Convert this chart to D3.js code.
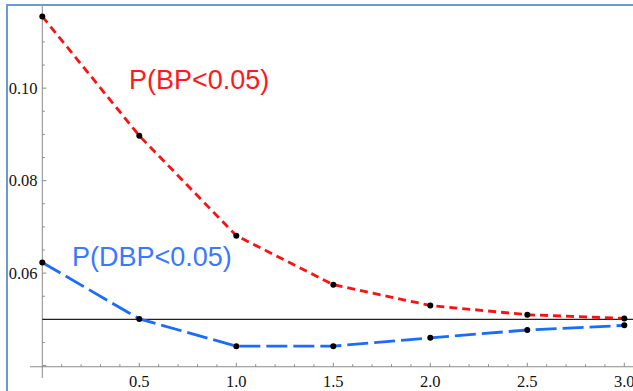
<!DOCTYPE html>
<html>
<head>
<meta charset="utf-8">
<script src="https://cdn.jsdelivr.net/npm/d3@7.9.0/dist/d3.min.js"></script>
<style>
  html, body { margin: 0; padding: 0; background: #fff; }
  svg { display: block; }
</style>
</head>
<body>
<svg id="chart" width="633" height="391"></svg>
<script>
// data
const xs = [0, 0.5, 1.0, 1.5, 2.0, 2.5, 3.0];
const bpValues = [0.1155, 0.0897, 0.0681, 0.0575, 0.0530, 0.0510, 0.0502];
const dbpValues = [0.0623, 0.0501, 0.0442, 0.0442, 0.0460, 0.0477, 0.0487];
const refLevel = 0.05;
const xTickLabels = ['0.5', '1.0', '1.5', '2.0', '2.5', '3.0'];
const yTickLabels = ['0.06', '0.08', '0.10'];

const svg = d3.select('#chart');

const x = d3.scaleLinear().domain([0, 3]).range([42.3, 624.3]);
const y = d3.scaleLinear().domain([0.04, 0.11]).range([365.6, 41.9]);
const axisY = y(0.03975);

const axisColor = '#8a8a8a';
const tickFont = '"Liberation Serif", "DejaVu Serif", serif';

// x axis
svg.append('line')
  .attr('x1', 30).attr('x2', 633)
  .attr('y1', axisY).attr('y2', axisY)
  .attr('stroke', axisColor).attr('stroke-width', 1);

// y axis
svg.append('line')
  .attr('x1', x(0)).attr('x2', x(0))
  .attr('y1', 6).attr('y2', 378)
  .attr('stroke', axisColor).attr('stroke-width', 1);

// x ticks, minor every 0.1, major every 0.5
const xMinor = d3.range(1, 31).map((i) => i / 10);
svg.append('g').selectAll('line')
  .data(xMinor)
  .join('line')
  .attr('x1', (d) => x(d)).attr('x2', (d) => x(d))
  .attr('y1', axisY)
  .attr('y2', (d) => Math.abs(d * 2 - Math.round(d * 2)) < 1e-6 ? axisY - 4 : axisY - 2.5)
  .attr('stroke', axisColor).attr('stroke-width', 1);

svg.append('g').selectAll('text')
  .data(xTickLabels)
  .join('text')
  .attr('x', (d) => x(+d))
  .attr('y', 387)
  .attr('text-anchor', 'middle')
  .attr('font-family', tickFont)
  .attr('font-size', 16.5)
  .attr('fill', '#111')
  .text((d) => d);

// y ticks, minor every 0.005, major every 0.02
const yMinor = d3.range(8, 23).map((i) => i * 0.005);
svg.append('g').selectAll('line')
  .data(yMinor)
  .join('line')
  .attr('x1', x(0))
  .attr('x2', (d) => Math.abs(d / 0.02 - Math.round(d / 0.02)) < 1e-6 ? x(0) + 4 : x(0) + 2.5)
  .attr('y1', (d) => y(d)).attr('y2', (d) => y(d))
  .attr('stroke', axisColor).attr('stroke-width', 1);

svg.append('g').selectAll('text')
  .data(yTickLabels)
  .join('text')
  .attr('x', 37.5)
  .attr('y', (d) => y(+d) + 5.5)
  .attr('text-anchor', 'end')
  .attr('font-family', tickFont)
  .attr('font-size', 16.5)
  .attr('fill', '#111')
  .text((d) => d);

// reference line at 0.05
svg.append('line')
  .attr('x1', x(0)).attr('x2', 633)
  .attr('y1', y(refLevel)).attr('y2', y(refLevel))
  .attr('stroke', '#222').attr('stroke-width', 1.3);

const line = d3.line().x((d) => x(d[0])).y((d) => y(d[1]));

const series = [
  { values: bpValues, color: '#ff1010', dash: '8,5' },
  { values: dbpValues, color: '#1a6bff', dash: '21,6' },
];

series.forEach((s) => {
  const pts = xs.map((v, i) => [v, s.values[i]]);
  svg.append('path')
    .datum(pts)
    .attr('d', line)
    .attr('fill', 'none')
    .attr('stroke', s.color)
    .attr('stroke-width', 2.8)
    .attr('stroke-dasharray', s.dash);
  svg.append('g').selectAll('circle')
    .data(pts)
    .join('circle')
    .attr('cx', (d) => x(d[0]))
    .attr('cy', (d) => y(d[1]))
    .attr('r', 3)
    .attr('fill', '#000');
});

// labels
svg.append('text')
  .attr('x', 129).attr('y', 89)
  .attr('font-family', '"Liberation Sans", Arial, sans-serif')
  .attr('font-size', 27)
  .attr('fill', '#ff1a1a')
  .text('P(BP<0.05)');

svg.append('text')
  .attr('x', 72).attr('y', 266)
  .attr('font-family', '"Liberation Sans", Arial, sans-serif')
  .attr('font-size', 27)
  .attr('fill', '#3a78ff')
  .text('P(DBP<0.05)');

// frame (blue border of the screenshot), drawn last so it clips the labels
svg.append('rect')
  .attr('x', 0).attr('y', 0).attr('width', 6).attr('height', 391)
  .attr('fill', '#fff');
svg.append('path')
  .attr('d', 'M7,391 V5 H633')
  .attr('fill', 'none')
  .attr('stroke', '#6a9bd3')
  .attr('stroke-width', 2);
</script>
</body>
</html>
